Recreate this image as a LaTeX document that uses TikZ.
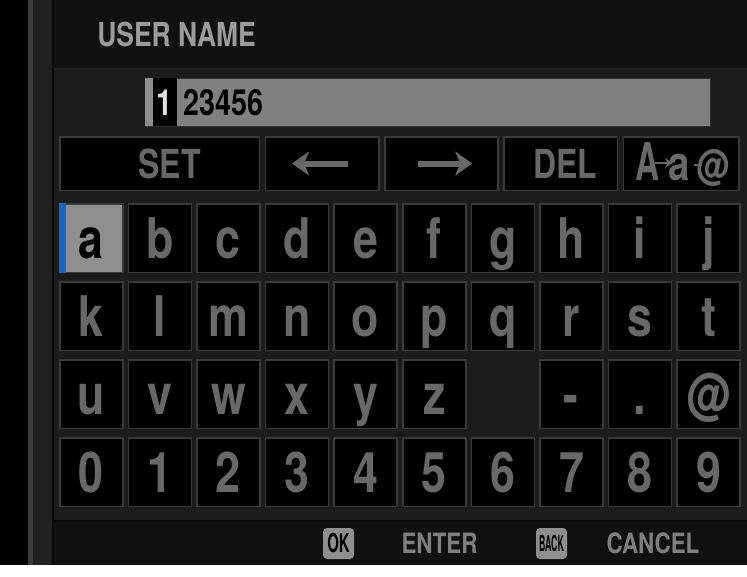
\documentclass[tikz,border=0pt]{standalone}
\usepackage{fontspec}
\usepackage{graphicx}
\setmainfont{TeX Gyre Heros}[FakeStretch=0.8]
\usetikzlibrary{positioning,arrows.meta}
\definecolor{bodygray}{HTML}{1C1C1C}
\definecolor{headgray}{HTML}{111111}
\definecolor{keyline}{HTML}{3A3A3A}
\definecolor{keytext}{HTML}{686868}
\definecolor{headtext}{HTML}{9C9C9C}
\definecolor{fieldgray}{HTML}{808080}
\definecolor{selgray}{HTML}{8F8F8F}
\definecolor{selblue}{HTML}{1565C8}
\definecolor{foottext}{HTML}{808080}
\begin{document}
\begin{tikzpicture}[x=1pt,y=-1pt,thick,
  key node/.style={draw=keyline,line width=1.5pt,fill=black,minimum width=63pt,minimum height=68.5pt,inner sep=0pt,text=keytext,font=\bfseries\fontsize{56}{56}\selectfont,text height=40pt,text depth=0pt},
  bar node/.style={draw=keyline,line width=1.5pt,fill=black,minimum height=53.5pt,inner sep=0pt,text=keytext,font=\bfseries\fontsize{40}{40}\selectfont,text height=29pt,text depth=0pt},
  foot node/.style={anchor=base,inner sep=0pt,text=foottext,font=\bfseries\fontsize{28}{28}\selectfont},
  icon node/.style={fill=selgray,rounded corners=4pt,minimum width=31pt,minimum height=31pt,inner sep=0pt,text=black,font=\bfseries\fontsize{26}{26}\selectfont},
  arrow line/.style={draw=keytext,line width=6pt,-{Stealth[length=17pt,width=24pt,inset=5pt]}}]
  \useasboundingbox (0,0) rectangle (747,576);
  % frame
  \fill[black] (0,0) rectangle (747,576);
  \fill[keyline] (28,0) rectangle (33,565);
  \fill[black!87] (33,0) rectangle (52,565);
  \fill[black!96] (52,0) rectangle (54,565);
  \fill[headgray] (54,0) rectangle (747,68);
  \fill[black!86] (54,68) rectangle (747,70);
  \fill[bodygray] (54,70) rectangle (747,520);
  \fill[black!97] (54,520) rectangle (747,522);
  \fill[headgray] (54,522) rectangle (747,565);
  \fill[white] (0,565) rectangle (747,576);
  % title and name field
  \node[anchor=base west,inner sep=0pt,text=headtext,font=\bfseries\fontsize{33}{33}\selectfont] (title) at (97,46) {USER NAME};
  \node[draw=black!80,fill=fieldgray,minimum width=565pt,minimum height=48pt] (field) at (427.5,102) {};
  \fill[selgray] (145,78) rectangle (153,126);
  \node[fill=black,minimum width=24pt,minimum height=48pt,inner sep=0pt] (cursor) at (165,102) {};
  \node[anchor=base,inner sep=0pt,text=black!12,font=\bfseries\fontsize{36}{36}\selectfont] (first) at (165,115) {1};
  \node[anchor=base west,inner sep=0pt,text=black,font=\bfseries\fontsize{36}{36}\selectfont] (rest) at (183,115) {23456};
  % command bar
  \node[bar node,minimum width=199.5pt] (set) at (159.5,163.5) {\hspace*{20pt}SET};
  \node[bar node,minimum width=113.5pt] (left) [right=4.5pt of set] {};
  \node[bar node,minimum width=113pt] (right) [right=4.5pt of left] {};
  \node[bar node,minimum width=113.5pt] (del) [right=4.5pt of right] {\hspace*{9pt}DEL};
  \node[bar node,minimum width=115.5pt] (mode) [right=4.5pt of del] {};
  \draw[arrow line] ([xshift=26pt]left.center) -- ([xshift=-30pt]left.center);
  \draw[arrow line] ([xshift=-23pt]right.center) -- ([xshift=31pt]right.center);
  \node[anchor=base,inner sep=0pt,text=keytext,font=\bfseries\fontsize{52}{52}\selectfont] (upper) at (647.5,180) {\scalebox{0.8}[1]{A}};
  \node[anchor=base,inner sep=0pt,text=keytext,font=\bfseries\fontsize{48}{48}\selectfont] (lower) at (679,180) {a};
  \node[anchor=base,inner sep=0pt,text=keytext,font=\bfseries\fontsize{42}{42}\selectfont] (symbol) at (713,180) {@};
  \draw[draw=keytext,line width=2.5pt,-{Stealth[length=8pt,width=10pt]}] (655,163) -- (673,163);
  \draw[draw=keytext,line width=2.5pt] (694,165) -- (702,165);
  % keyboard
  \foreach \ch [count=\c from 0] in {a,b,c,d,e,f,g,h,i,j}
    \node[key node] (k-1-\c) at ({91.25+\c*68.6},238) {\ch};
  \foreach \ch [count=\c from 0] in {k,l,m,n,o,p,q,r,s,t}
    \node[key node] (k-2-\c) at ({91.25+\c*68.6},316) {\ch};
  \foreach \ch/\c in {u/0,v/1,w/2,x/3,y/4,z/5,-/7,./8,@/9}
    \node[key node] (k-3-\c) at ({91.25+\c*68.6},394) {\ch};
  \foreach \ch [count=\c from 0] in {0,1,2,3,4,5,6,7,8,9}
    \node[key node] (k-4-\c) at ({91.25+\c*68.6},472) {\ch};
  % selected key
  \node[key node,fill=selgray,text=black] (sel) at (k-1-0) {a};
  \fill[selblue] (k-1-0.north west) rectangle ([xshift=7pt]k-1-0.south west);
  % footer
  \node[icon node] (ok) at (338.5,543.5) {\scalebox{0.72}[1]{OK}};
  \node[foot node] (enter) at (439.5,553) {ENTER};
  \node[icon node,font=\bfseries\fontsize{22}{22}\selectfont] (back) at (551.5,543.5) {\scalebox{0.5}[1]{BACK}};
  \node[foot node] (cancel) at (653,553) {CANCEL};
\end{tikzpicture}
\end{document}
